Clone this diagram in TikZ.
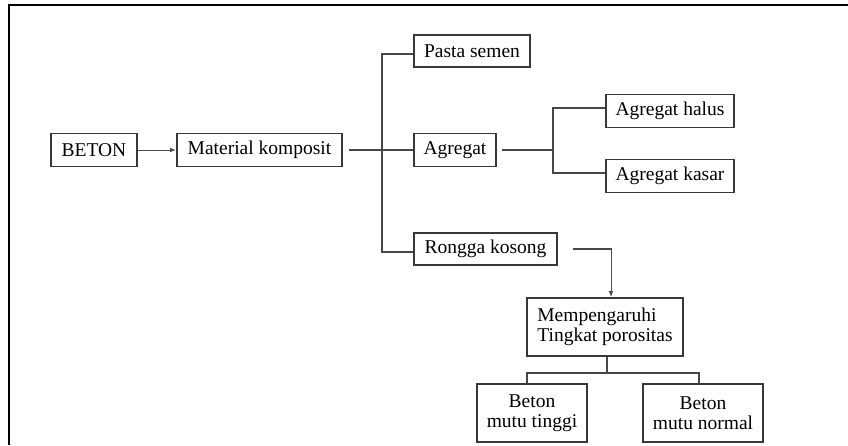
\documentclass[tikz,border=0pt]{standalone}
\usepackage{fontspec}
\setmainfont{Liberation Serif}
\usetikzlibrary{arrows.meta,calc}
\begin{document}
\begin{tikzpicture}[x=1pt,y=-1pt,
  box/.style={draw=black!78,line width=1.6pt,inner sep=0pt,minimum height=33pt,
    font=\fontsize{19.5}{20}\selectfont,fill=white},
  tallbox/.style={box,minimum height=58pt},
  conn/.style={draw=black!72,line width=1.5pt},
  thinarrow/.style={draw=black!70,line width=1pt,-{Latex[length=6pt,width=4.5pt]}}]
\useasboundingbox (0,0) rectangle (848,445);
% frame
\draw[line width=2.6pt,black] (9,445) -- (9,5) -- (848,5);
% nodes
\node[box,minimum width=86pt] (beton) at (94,150) {BETON};
\node[box,minimum width=165pt] (mk) at (259.5,150) {Material komposit};
\node[box,minimum width=116pt,minimum height=32pt] (pasta) at (472,51) {Pasta semen};
\node[box,minimum width=82pt] (agr) at (455,150) {Agregat};
\node[box,minimum width=128pt] (halus) at (670,111) {Agregat halus};
\node[box,minimum width=128pt] (kasar) at (670,176) {Agregat kasar};
\node[box,minimum width=143pt,minimum height=32pt] (rongga) at (485.5,249) {Rongga kosong};
\node[tallbox,minimum width=156pt,align=left] (mp) at (605,327) {Mempengaruhi\\Tingkat porositas};
\node[tallbox,minimum width=110pt,align=center] (tinggi) at (532,413) {Beton\\mutu tinggi};
\node[tallbox,minimum width=120pt,align=center] (normal) at (703,413) {Beton\\mutu normal};
\coordinate (trunk) at (382,150);
\coordinate (br) at (553,150);
\coordinate (corner) at ($(mp.north)+(6,-48)$);
% connectors
\draw[thinarrow] (beton.east) -- (mk.west);
\draw[conn] ([xshift=6pt]mk.east) -- (trunk);
\draw[conn] ([yshift=-3pt]pasta.west) -| (trunk) |- ([yshift=-3pt]rongga.west);
\draw[conn] (trunk) -- (agr.west);
\draw[conn] ([xshift=5pt]agr.east) -- (br);
\draw[conn] ([yshift=3pt]halus.west) -| (br) |- ([yshift=3pt]kasar.west);
\draw[conn] ([xshift=15pt]rongga.east |- corner) -- ([xshift=0.5pt]corner);
\draw[thinarrow] (corner) -- ([xshift=6pt]mp.north);
\coordinate (split) at ($(mp.south)+(2,16)$);
\draw[conn] ([xshift=2pt]mp.south) -- (split);
\draw[conn] ([xshift=-5pt]tinggi.north) |- (split) -| ([xshift=-4pt]normal.north);
\end{tikzpicture}
\end{document}
